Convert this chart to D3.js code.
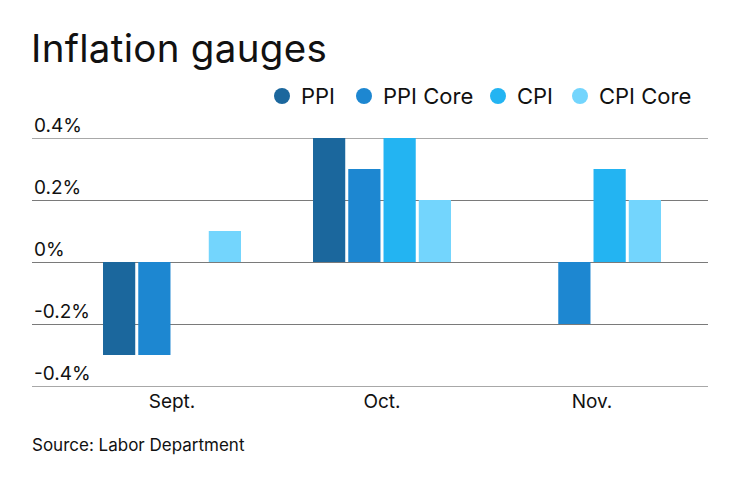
<!DOCTYPE html>
<html>
<head>
<meta charset="utf-8">
<script src="https://cdn.jsdelivr.net/npm/d3@7"></script>
<style>
  body { margin: 0; background: #fff; }
  text { font-family: Inter, Lato, sans-serif; fill: #111; }
</style>
</head>
<body>
<script>
const w = 740;
const h = 482;

const months = ["Sept.", "Oct.", "Nov."];
const series = ["PPI", "PPI Core", "CPI", "CPI Core"];
const colors = ["#1b679d", "#1d87d1", "#23b4f2", "#73d5fd"];
const ppi = [-0.3, 0.4, 0];
const ppiCore = [-0.3, 0.3, -0.2];
const cpi = [0, 0.4, 0.3];
const cpiCore = [0.1, 0.2, 0.2];
const yTicks = [-0.4, -0.2, 0, 0.2, 0.4];
const yTickLabels = ["-0.4%", "-0.2%", "0%", "0.2%", "0.4%"];

const values = [ppi, ppiCore, cpi, cpiCore];
const rows = [];
months.forEach((m, i) => {
  series.forEach((s, j) => rows.push({ month: m, series: s, value: values[j][i], color: colors[j] }));
});

const svg = d3.select("body").append("svg").attr("width", w).attr("height", h);

const x0 = d3.scaleBand().domain(months).range([67, 697]).paddingInner(0.343).paddingOuter(0.1715);
const x1 = d3.scaleBand().domain(series).range([0, x0.bandwidth()]).paddingInner(0.086);
const y = d3.scaleLinear().domain([-0.4, 0.4]).range([386, 138]);

// title
svg.append("text").attr("x", 31).attr("y", 62)
  .attr("font-size", 38.5).attr("letter-spacing", 0.3).text("Inflation gauges");

// grid lines + tick labels
const yAxis = svg.append("g");
yAxis.selectAll("line").data(yTicks).enter().append("line")
  .attr("x1", 32).attr("x2", 708)
  .attr("y1", d => y(d) + 0.5).attr("y2", d => y(d) + 0.5)
  .attr("stroke", d => Math.abs(d) === 0.4 ? "#a8a8a8" : "#7a7a7a")
  .attr("stroke-width", 1.2);
yAxis.selectAll("text").data(yTicks).enter().append("text")
  .attr("x", 34).attr("y", d => y(d) - 6)
  .attr("font-size", 19)
  .text((d, i) => yTickLabels[i]);

// bars
svg.append("g").selectAll("rect").data(rows.filter(d => d.value !== 0)).enter().append("rect")
  .attr("x", d => x0(d.month) + x1(d.series))
  .attr("y", d => y(Math.max(0, d.value)))
  .attr("width", x1.bandwidth())
  .attr("height", d => Math.abs(y(d.value) - y(0)))
  .attr("fill", d => d.color);

// month labels
svg.append("g").selectAll("text").data(months).enter().append("text")
  .attr("x", d => x0(d) + x0.bandwidth() / 2)
  .attr("y", 408)
  .attr("text-anchor", "middle")
  .attr("font-size", 19)
  .text(d => d);

// legend
const legendX = [282, 364, 498, 580];
const legend = svg.append("g").selectAll("g").data(series).enter().append("g")
  .attr("transform", (d, i) => `translate(${legendX[i]},96)`);
legend.append("circle").attr("r", 8).attr("fill", (d, i) => colors[i]);
legend.append("text").attr("x", 19).attr("y", 8)
  .attr("font-size", 22).text(d => d);

// source
svg.append("text").attr("x", 32).attr("y", 451)
  .attr("font-size", 17).attr("fill", "#222").text("Source: Labor Department");
</script>
</body>
</html>
